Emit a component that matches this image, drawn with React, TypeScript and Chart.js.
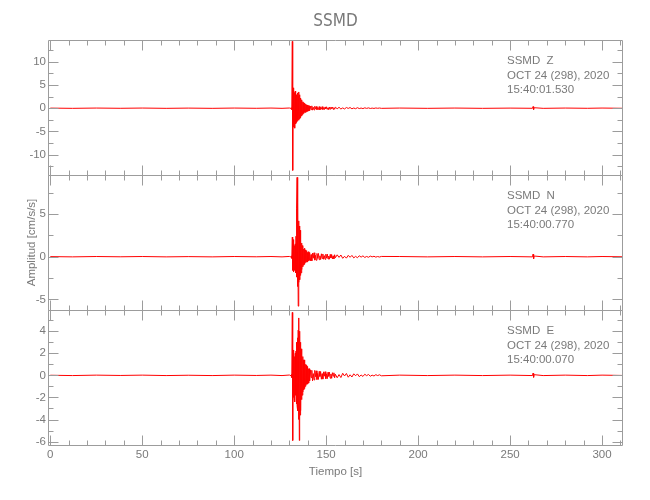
import { useEffect, useRef } from "react";
import { Chart, registerables } from "chart.js";

Chart.register(...registerables);

// ---- data ----
const times = [
  0, 12, 25, 38, 50, 63, 75, 88, 100, 112, 120, 126, 130,
  131.0, 131.2, 131.4, 131.6, 131.8, 132.0, 132.2, 132.4, 132.6, 132.8,
  133.0, 133.2, 133.4, 133.6, 133.8, 134.0, 134.2, 134.4, 134.6, 134.8,
  135.0, 135.2, 135.4, 135.6, 135.8, 136.0, 136.2, 136.4, 136.6, 136.8,
  137.0, 137.2, 137.4, 137.6, 137.8, 138.0, 138.2, 138.4, 138.6, 138.8,
  139.0, 139.2, 139.4, 139.6, 139.8, 140.0, 140.2, 140.4, 140.6, 140.8, 141.0,
  141.4, 141.8, 142.2, 142.6, 143.0, 143.4, 143.8, 144.2, 144.6, 145.0,
  145.4, 145.8, 146.2, 146.6, 147.0, 147.4, 147.8, 148.2, 148.6, 149.0,
  149.4, 149.8, 150.2, 150.6, 151.0, 151.4, 151.8, 152.2, 152.6, 153.0,
  153.4, 153.8, 154.2, 154.6, 155.0,
  156, 157, 158, 159, 160, 161, 162, 163, 164, 165, 166, 167, 168, 169, 170,
  171, 172, 173, 174, 175, 176, 177, 178, 179, 180,
  190, 205, 220, 235, 250, 262.2, 262.5, 262.8, 263.1, 268, 280, 292, 300, 311.4,
];

const zValues = [
  0.02, -0.03, 0.03, -0.02, 0.03, -0.03, 0.02, -0.03, 0.03, -0.02, 0.03, -0.03, 0.04,
  -0.05, 0.12, -0.3, 14.4, -13.4, 3.6, -4.1, 4.4, -3.9, 3.4,
  -4.3, 3.7, -3.4, 2.9, -3.1, 2.6, -2.8, 3.3, -2.5, 2.7,
  -2.6, 3.5, -2.3, 2.9, -2.1, 2.2, -1.9, 1.8, -1.7, 1.5,
  -1.4, 1.4, -1.2, 1.2, -1.1, 1.0, -0.9, 1.1, -0.8, 0.9,
  -0.9, 0.7, -0.7, 0.6, -0.7, 0.7, -0.5, 0.6, -0.6, 0.5, -0.5,
  0.45, -0.3, 0.5, -0.42, 0.2, -0.38, 0.41, -0.15, 0.36, -0.33,
  0.12, -0.29, 0.34, -0.36, 0.18, -0.22, 0.33, -0.28, 0.1, -0.3,
  0.27, -0.14, 0.3, -0.26, 0.08, -0.27, 0.24, -0.2, 0.26, -0.1,
  0.23, -0.24, 0.12, -0.22, 0.21,
  -0.12, 0.19, -0.18, 0.06, -0.16, 0.15, -0.05, 0.14, -0.13, 0.04, -0.11, 0.11, -0.08, 0.03, -0.09,
  0.08, -0.04, 0.07, -0.06, 0.02, -0.05, 0.05, -0.02, 0.04, -0.03,
  0.03, -0.03, 0.03, -0.03, 0.02, -0.02, 0.35, -0.3, 0.1, -0.03, 0.03, -0.02, 0.03, -0.02,
];

const nValues = [
  0.01, -0.02, 0.02, -0.01, 0.02, -0.02, 0.01, -0.02, 0.02, -0.01, 0.02, -0.02, 0.03,
  -0.04, 0.1, -0.2, 2.3, -1.6, 2.0, -1.8, 1.7, -1.5, 1.3,
  -1.6, 1.5, -1.9, 2.4, -2.4, 5.6, 9.3, -3.5, 6.4, -5.8,
  4.2, -3.0, 3.6, -2.7, 3.1, -2.2, 2.0, -1.9, 1.6, -1.5,
  1.3, -1.2, 1.2, -1.0, 0.9, -0.9, 1.0, -0.8, 0.8, -0.7,
  0.8, -0.6, 0.7, -0.6, 0.5, -0.6, 0.5, -0.5, 0.6, -0.4, 0.5,
  -0.5, 0.25, -0.48, 0.42, -0.18, 0.46, -0.4, 0.15, -0.42, 0.38,
  -0.2, 0.38, -0.35, 0.1, -0.33, 0.34, -0.22, 0.32, -0.3, 0.12,
  -0.31, 0.29, -0.16, 0.31, -0.27, 0.08, -0.29, 0.26, -0.14, 0.25,
  -0.26, 0.1, -0.25, 0.23, -0.12,
  0.22, -0.08, 0.2, -0.19, 0.05, -0.17, 0.16, -0.07, 0.15, -0.14, 0.04, -0.12, 0.11, -0.05, 0.1,
  -0.09, 0.03, -0.07, 0.07, -0.02, 0.05, -0.05, 0.02, -0.04, 0.03,
  0.02, -0.02, 0.02, -0.02, 0.02, -0.02, 0.3, -0.25, 0.08, -0.02, 0.02, -0.02, 0.02, -0.01,
];

const eValues = [
  0.01, -0.02, 0.02, -0.01, 0.02, -0.02, 0.01, -0.02, 0.02, -0.01, 0.02, -0.02, 0.03,
  -0.04, 0.1, -0.2, 5.7, -5.9, 1.8, -2.0, 2.3, -2.1, 1.7,
  -2.4, 2.0, -1.8, 2.2, -2.6, 3.0, -2.8, 3.4, -3.2, 4.1,
  -4.0, 5.2, -5.9, 4.0, -3.6, 3.0, -3.2, 2.4, -2.2, 1.9,
  -1.8, 1.7, -1.5, 1.4, -1.3, 1.4, -1.2, 1.1, -1.0, 1.0,
  -0.9, 0.9, -0.8, 0.8, -0.8, 0.7, -0.7, 0.6, -0.7, 0.6, -0.5,
  0.5, -0.2, 0.46, -0.5, 0.16, -0.42, 0.45, -0.12, 0.41, -0.38,
  0.18, -0.37, 0.36, -0.1, 0.34, -0.35, 0.15, -0.34, 0.32, -0.08,
  0.33, -0.3, 0.14, -0.3, 0.28, -0.09, 0.28, -0.26, 0.12, -0.27,
  0.24, -0.07, 0.23, -0.22, 0.1,
  -0.22, 0.07, -0.2, 0.19, -0.06, 0.17, -0.17, 0.05, -0.15, 0.14, -0.04, 0.13, -0.12, 0.03, -0.1,
  0.1, -0.03, 0.08, -0.08, 0.02, -0.06, 0.06, -0.02, 0.05, -0.04,
  0.02, -0.02, 0.02, -0.02, 0.02, -0.02, 0.2, -0.18, 0.06, -0.02, 0.02, -0.02, 0.02, -0.01,
];

const xMajorTicks = [0, 50, 100, 150, 200, 250, 300];
const xMinorTicks = [
  10, 20, 30, 40, 60, 70, 80, 90, 110, 120, 130, 140, 160, 170, 180, 190,
  210, 220, 230, 240, 260, 270, 280, 290, 310,
];
const zMajorTicks = [-10, -5, 0, 5, 10];
const zMinorTicks = [-12.5, -7.5, -2.5, 2.5, 7.5, 12.5];
const nMajorTicks = [-5, 0, 5];
const nMinorTicks = [-2.5, 2.5, 7.5];
const eMajorTicks = [-6, -4, -2, 0, 2, 4];
const eMinorTicks = [-5, -3, -1, 1, 3, 5];

const stationName = "SSMD";
const dateLabel = "OCT 24 (298), 2020";
const componentLabels = ["Z", "N", "E"];
const startTimes = ["15:40:01.530", "15:40:00.770", "15:40:00.070"];

// ---- styling ----
const AXIS_COLOR = "#9c9c9c";
const TEXT_COLOR = "#7a7a7a";
const TRACE_COLOR = "#ff0000";
const FONT_FAMILY = "'Liberation Sans', Arial, sans-serif";
const TITLE_FAMILY = "'Liberation Sans Narrow', 'DejaVu Sans Condensed', 'Liberation Sans', sans-serif";
const TICK_FONT = { family: FONT_FAMILY, size: 11.5 };

// top-to-bottom order: Z, N, E
const panels = [
  { id: "yZ", values: zValues, min: -14.4, max: 14.7, major: zMajorTicks, minor: zMinorTicks },
  { id: "yN", values: nValues, min: -6.25, max: 9.58, major: nMajorTicks, minor: nMinorTicks },
  { id: "yE", values: eValues, min: -6.31, max: 5.92, major: eMajorTicks, minor: eMinorTicks },
];

const framePlugin = {
  id: "seismoFrame",
  afterDatasetsDraw(chart: any) {
    const { ctx, chartArea } = chart;
    const xs = chart.scales.x;
    const left = Math.round(chartArea.left) + 0.5;
    const right = Math.round(chartArea.right) - 0.5;
    ctx.save();
    ctx.strokeStyle = AXIS_COLOR;
    ctx.lineWidth = 1;
    panels.forEach((p, i) => {
      const ys = chart.scales[p.id];
      const top = Math.round(ys.top) + 0.5;
      const bottom = Math.round(ys.bottom) + 0.5;
      ctx.beginPath();
      ctx.rect(left, top, right - left, bottom - top);
      const xTick = (v: number, len: number) => {
        const px = Math.round(xs.getPixelForValue(v)) + 0.5;
        ctx.moveTo(px, top);
        ctx.lineTo(px, top + len);
        ctx.moveTo(px, bottom);
        ctx.lineTo(px, bottom - len);
      };
      xMajorTicks.forEach((v) => xTick(v, 10));
      xMinorTicks.forEach((v) => xTick(v, 5));
      const yTick = (v: number, len: number) => {
        const py = Math.round(ys.getPixelForValue(v)) + 0.5;
        ctx.moveTo(left, py);
        ctx.lineTo(left + len, py);
        ctx.moveTo(right, py);
        ctx.lineTo(right - len, py);
      };
      p.major.forEach((v) => yTick(v, 10));
      p.minor.forEach((v) => yTick(v, 5));
      ctx.stroke();

      ctx.fillStyle = TEXT_COLOR;
      ctx.font = `11.5px ${FONT_FAMILY}`;
      ctx.textAlign = "left";
      ctx.textBaseline = "middle";
      const tx = 507;
      ctx.fillText(`${stationName}  ${componentLabels[i]}`, tx, ys.top + 21);
      ctx.fillText(dateLabel, tx, ys.top + 35.5);
      ctx.fillText(startTimes[i], tx, ys.top + 50);
    });
    ctx.fillStyle = TEXT_COLOR;
    ctx.font = `17px ${TITLE_FAMILY}`;
    ctx.textAlign = "center";
    ctx.textBaseline = "middle";
    ctx.fillText(stationName, (chartArea.left + chartArea.right) / 2, 22);
    ctx.restore();
  },
};

export default function App() {
  const ref = useRef<HTMLCanvasElement>(null);

  useEffect(() => {
    if (!ref.current) return;
    const yScales: any = {};
    // Chart.js stacks left axes with the last-defined on top, so define bottom panel first
    [...panels].reverse().forEach((p) => {
      yScales[p.id] = {
        type: "linear",
        position: "left",
        stack: "traces",
        stackWeight: 1,
        min: p.min,
        max: p.max,
        afterBuildTicks: (s: any) => {
          s.ticks = p.major.map((v) => ({ value: v }));
        },
        afterFit: (s: any) => {
          s.width = 40;
        },
        grid: { display: false, drawTicks: false },
        border: { display: false },
        ticks: { color: TEXT_COLOR, font: TICK_FONT, padding: 2, autoSkip: false },
        title: {
          display: p.id === "yN",
          text: "Amplitud [cm/s/s]",
          color: TEXT_COLOR,
          font: { family: FONT_FAMILY, size: 11.5 },
          padding: { top: 17, bottom: 0 },
        },
      };
    });

    const chart = new Chart(ref.current, {
      type: "line",
      data: {
        datasets: panels.map((p) => ({
          data: times.map((t, i) => ({ x: t, y: p.values[i] })),
          yAxisID: p.id,
          xAxisID: "x",
          borderColor: TRACE_COLOR,
          borderWidth: 1,
          pointRadius: 0,
          tension: 0,
          fill: false,
        })),
      },
      options: {
        animation: false,
        responsive: false,
        events: [],
        layout: { padding: { left: 8, right: 27, top: 40, bottom: 0 } },
        plugins: { legend: { display: false }, tooltip: { enabled: false }, title: { display: false } },
        scales: {
          x: {
            type: "linear",
            position: "bottom",
            min: -1.25,
            max: 311.4,
            afterBuildTicks: (s: any) => {
              s.ticks = xMajorTicks.map((v) => ({ value: v }));
            },
            afterFit: (s: any) => {
              s.height = 55;
            },
            grid: { display: false, drawTicks: false },
            border: { display: false },
            ticks: { color: TEXT_COLOR, font: TICK_FONT, padding: 3, maxRotation: 0, autoSkip: false },
            title: {
              display: true,
              text: "Tiempo [s]",
              color: TEXT_COLOR,
              font: { family: FONT_FAMILY, size: 11.5 },
              padding: { top: 0, bottom: 21 },
            },
          },
          ...yScales,
        },
      },
      plugins: [framePlugin],
    } as any);
    return () => chart.destroy();
  }, []);

  return (
    <div style={{ position: "absolute", left: 0, top: 0, width: 650, height: 500, background: "#fff" }}>
      <canvas ref={ref} width={650} height={500} style={{ width: 650, height: 500, display: "block" }} />
    </div>
  );
}
